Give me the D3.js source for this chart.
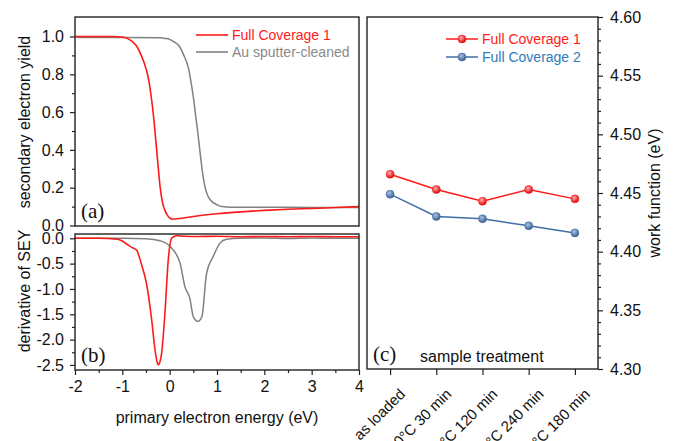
<!DOCTYPE html>
<html>
<head>
<meta charset="utf-8">
<script src="https://cdn.jsdelivr.net/npm/d3@7"></script>
<style>
  body { margin: 0; background: #fff; }
  svg { display: block; font-family: "Liberation Sans", Arial, sans-serif; }
</style>
</head>
<body>
<svg id="chart" width="675" height="441"></svg>
<script>
// ---- (a) secondary electron yield vs primary electron energy ----
const seyEnergyFC1 = [-2, -1.2, -1.0, -0.9, -0.8, -0.7, -0.6, -0.5, -0.45, -0.4, -0.35, -0.3, -0.25, -0.2, -0.15, -0.1, -0.05, 0, 0.07, 0.2, 0.5, 1, 1.5, 2, 2.5, 3, 3.5, 4];
const seyFC1 = [1.0, 1.0, 0.997, 0.99, 0.975, 0.95, 0.9, 0.83, 0.78, 0.7, 0.6, 0.47, 0.33, 0.2, 0.12, 0.08, 0.055, 0.04, 0.033, 0.037, 0.048, 0.062, 0.072, 0.08, 0.086, 0.09, 0.095, 0.1];
const seyEnergyAu = [-2, -1.9, -1, -0.2, -0.1, 0, 0.1, 0.2, 0.3, 0.4, 0.45, 0.5, 0.55, 0.6, 0.65, 0.7, 0.75, 0.8, 0.9, 1.0, 1.1, 1.3, 2, 3, 4];
const seyAu = [1.0, 0.995, 0.995, 0.993, 0.99, 0.985, 0.97, 0.95, 0.9, 0.83, 0.76, 0.68, 0.58, 0.48, 0.37, 0.27, 0.2, 0.16, 0.125, 0.11, 0.1, 0.097, 0.097, 0.095, 0.095];

// ---- (b) derivative of SEY ----
const derEnergyFC1 = [-2, -1.5, -1.1, -1.01, -0.9, -0.8, -0.7, -0.6, -0.49, -0.38, -0.31, -0.27, -0.24, -0.21, -0.17, -0.1, -0.03, 0.04, 0.1, 0.15, 0.3, 0.6, 1, 1.5, 2, 2.5, 3, 3.5, 4];
const derFC1 = [0, 0, -0.02, -0.05, -0.12, -0.18, -0.23, -0.5, -0.89, -1.61, -2.2, -2.42, -2.5, -2.45, -2.27, -1.48, -0.43, 0.0, 0.04, 0.05, 0.04, 0.035, 0.04, 0.03, 0.035, 0.03, 0.035, 0.03, 0.03];
const derEnergyAu = [-2, -1, -0.5, -0.2, 0.01, 0.22, 0.32, 0.43, 0.5, 0.6, 0.68, 0.78, 0.92, 1.06, 1.2, 1.5, 2, 2.5, 3, 3.5, 4];
const derAu = [0, 0, -0.01, -0.05, -0.16, -0.49, -0.95, -1.2, -1.55, -1.64, -1.55, -0.69, -0.36, -0.1, -0.02, 0, 0.005, -0.005, 0.005, 0, 0];

// ---- (c) work function vs sample treatment ----
const treatments = ["as loaded", "130°C 30 min", "130°C 120 min", "130°C 240 min", "150°C 180 min"];
const workFC1 = [4.466, 4.453, 4.443, 4.453, 4.445];
const workFC2 = [4.449, 4.430, 4.428, 4.422, 4.416];

const energyTicks = [-2, -1, 0, 1, 2, 3, 4];
const seyTicks = [0.0, 0.2, 0.4, 0.6, 0.8, 1.0];
const derTicks = [0.0, -0.5, -1.0, -1.5, -2.0, -2.5];
const workTicks = [4.30, 4.35, 4.40, 4.45, 4.50, 4.55, 4.60];

const RED = "#ff1a1a", GRAY = "#808080", BLUE = "#3f6fa6";
const svg = d3.select("#chart");

// plain hyphen for negative tick labels
const loc = d3.formatLocale({ decimal: ".", thousands: ",", grouping: [3], currency: ["", ""], minus: "-" });
const fmt1 = loc.format(".1f"), fmtInt = loc.format("d"), fmt2 = loc.format(".2f");

// shared energy axis for (a) and (b)
const x = d3.scaleLinear().domain([-2, 4]).range([75, 359]);
const yA = d3.scaleLinear().domain([0, 1.1]).range([225.5, 17.6]);
const yB = d3.scaleLinear().domain([-2.6, 0.085]).range([370, 234]);

const xC = d3.scaleLinear().domain([-0.5, 4.5]).range([367, 598]);
const yC = d3.scaleLinear().domain([4.30, 4.60]).range([369, 17]);

function styleAxis(g, size) {
  g.selectAll("path").remove();
  g.selectAll("line").attr("stroke", "#222").attr("stroke-width", 1.2);
  g.selectAll("text").attr("font-size", size).attr("fill", "#111")
    .attr("font-family", '"Liberation Sans", Arial, sans-serif');
}

function frame(x0, y0, x1, y1) {
  svg.append("rect").attr("x", x0).attr("y", y0).attr("width", x1 - x0).attr("height", y1 - y0)
    .attr("fill", "none").attr("stroke", "#222").attr("stroke-width", 1.4);
}

// ---- panel (a) ----
const lineA = (xs, ys) => d3.line().x((d, i) => x(xs[i])).y((d, i) => yA(ys[i])).curve(d3.curveMonotoneX)(ys);
svg.append("path").attr("d", lineA(seyEnergyAu, seyAu)).attr("fill", "none").attr("stroke", GRAY).attr("stroke-width", 1.5);
svg.append("path").attr("d", lineA(seyEnergyFC1, seyFC1)).attr("fill", "none").attr("stroke", RED).attr("stroke-width", 1.6);

svg.append("g").attr("transform", "translate(75,0)")
  .call(d3.axisLeft(yA).tickValues(d3.range(0.1, 1.1, 0.2)).tickSize(3).tickFormat(""))
  .call(g => styleAxis(g, 15));
svg.append("g").attr("transform", "translate(75,0)")
  .call(d3.axisLeft(yA).tickValues(seyTicks).tickSize(5).tickPadding(6).tickFormat(fmt1))
  .call(g => styleAxis(g, 16));
frame(75, 17, 359, 226);

// legend (a)
const legA = [{ t: "Full Coverage 1", c: RED, tc: RED, y: 35 }, { t: "Au sputter-cleaned", c: GRAY, tc: "#8a8a8a", y: 52 }];
legA.forEach(l => {
  svg.append("line").attr("x1", 196).attr("x2", 228).attr("y1", l.y).attr("y2", l.y).attr("stroke", l.c).attr("stroke-width", 1.6);
  svg.append("text").attr("x", 232).attr("y", l.y + 5).attr("font-size", 14).attr("fill", l.tc).text(l.t);
});
svg.append("text").attr("x", 81).attr("y", 218).attr("font-family", '"Liberation Serif", "Times New Roman", serif')
  .attr("font-size", 21).attr("fill", "#111").text("(a)");
svg.append("text").attr("transform", "translate(30,122) rotate(-90)").attr("text-anchor", "middle")
  .attr("font-size", 16).attr("fill", "#111").text("secondary electron yield");

// ---- panel (b) ----
const lineB = (xs, ys) => d3.line().x((d, i) => x(xs[i])).y((d, i) => yB(ys[i])).curve(d3.curveMonotoneX)(ys);
svg.append("path").attr("d", lineB(derEnergyAu, derAu)).attr("fill", "none").attr("stroke", GRAY).attr("stroke-width", 1.5);
svg.append("path").attr("d", lineB(derEnergyFC1, derFC1)).attr("fill", "none").attr("stroke", RED).attr("stroke-width", 1.6);

svg.append("g").attr("transform", "translate(75,0)")
  .call(d3.axisLeft(yB).tickValues(d3.range(-2.25, 0, 0.5)).tickSize(3).tickFormat(""))
  .call(g => styleAxis(g, 15));
svg.append("g").attr("transform", "translate(75,0)")
  .call(d3.axisLeft(yB).tickValues(derTicks).tickSize(5).tickPadding(6).tickFormat(fmt1))
  .call(g => styleAxis(g, 16));
svg.append("g").attr("transform", "translate(0,370)")
  .call(d3.axisBottom(x).tickValues(d3.range(-1.5, 4, 1)).tickSize(3).tickFormat(""))
  .call(g => styleAxis(g, 15));
svg.append("g").attr("transform", "translate(0,370)")
  .call(d3.axisBottom(x).tickValues(energyTicks).tickSize(5).tickPadding(6).tickFormat(fmtInt))
  .call(g => styleAxis(g, 16));
frame(75, 234, 359, 370);

svg.append("text").attr("x", 81).attr("y", 362).attr("font-family", '"Liberation Serif", "Times New Roman", serif')
  .attr("font-size", 21).attr("fill", "#111").text("(b)");
svg.append("text").attr("transform", "translate(30,291) rotate(-90)").attr("text-anchor", "middle")
  .attr("font-size", 16).attr("fill", "#111").text("derivative of SEY");
svg.append("text").attr("x", 217).attr("y", 423).attr("text-anchor", "middle")
  .attr("font-size", 16).attr("fill", "#111").text("primary electron energy (eV)");

// ---- panel (c) ----
const defs = svg.append("defs");
function ballGradient(id, light, dark) {
  const g = defs.append("radialGradient").attr("id", id).attr("cx", "40%").attr("cy", "35%").attr("r", "65%");
  g.append("stop").attr("offset", "0%").attr("stop-color", light);
  g.append("stop").attr("offset", "100%").attr("stop-color", dark);
}
ballGradient("ballRed", "#ffb0b0", "#e00000");
ballGradient("ballBlue", "#a9c3e0", "#365f93");

const seriesC = [
  { v: workFC2, c: BLUE, fill: "url(#ballBlue)" },
  { v: workFC1, c: RED, fill: "url(#ballRed)" }
];
seriesC.forEach(s => {
  svg.append("path").attr("d", d3.line().x((d, i) => xC(i)).y(d => yC(d))(s.v))
    .attr("fill", "none").attr("stroke", s.c).attr("stroke-width", 1.5);
  svg.selectAll(null).data(s.v).enter().append("circle")
    .attr("cx", (d, i) => xC(i)).attr("cy", d => yC(d)).attr("r", 4)
    .attr("fill", s.fill).attr("stroke", s.c).attr("stroke-width", 0.6);
});

svg.append("g").attr("transform", "translate(598,0)")
  .call(d3.axisRight(yC).tickValues(d3.range(4.31, 4.6, 0.01).filter(v => Math.round(v * 100) % 5 !== 0)).tickSize(3).tickFormat(""))
  .call(g => styleAxis(g, 15));
svg.append("g").attr("transform", "translate(598,0)")
  .call(d3.axisRight(yC).tickValues(workTicks).tickSize(5).tickPadding(7).tickFormat(fmt2))
  .call(g => styleAxis(g, 16));
svg.append("g").attr("transform", "translate(0,369)")
  .call(d3.axisBottom(xC).tickValues(d3.range(treatments.length)).tickSize(6).tickFormat(""))
  .call(g => styleAxis(g, 14));
frame(367, 17, 598, 369);

// rotated treatment labels
svg.selectAll(null).data(treatments).enter().append("text")
  .attr("transform", (d, i) => `translate(${xC(i) + 16},${395}) rotate(-45)`)
  .attr("text-anchor", "end").attr("font-size", 15).attr("fill", "#111").text(d => d);

// legend (c)
const legC = [{ t: "Full Coverage 1", c: RED, tc: RED, fill: "url(#ballRed)", y: 39 }, { t: "Full Coverage 2", c: BLUE, tc: "#2f7cbd", fill: "url(#ballBlue)", y: 57 }];
legC.forEach(l => {
  svg.append("line").attr("x1", 446).attr("x2", 478).attr("y1", l.y).attr("y2", l.y).attr("stroke", l.c).attr("stroke-width", 1.5);
  svg.append("circle").attr("cx", 462).attr("cy", l.y).attr("r", 4).attr("fill", l.fill).attr("stroke", l.c).attr("stroke-width", 0.6);
  svg.append("text").attr("x", 482).attr("y", l.y + 5).attr("font-size", 14).attr("fill", l.tc).text(l.t);
});

svg.append("text").attr("x", 373).attr("y", 361).attr("font-family", '"Liberation Serif", "Times New Roman", serif')
  .attr("font-size", 21).attr("fill", "#111").text("(c)");
svg.append("text").attr("x", 420).attr("y", 362).attr("font-size", 16).attr("fill", "#111").text("sample treatment");
svg.append("text").attr("transform", "translate(660,193) rotate(-90)").attr("text-anchor", "middle")
  .attr("font-size", 16).attr("fill", "#111").text("work function (eV)");
</script>
</body>
</html>
